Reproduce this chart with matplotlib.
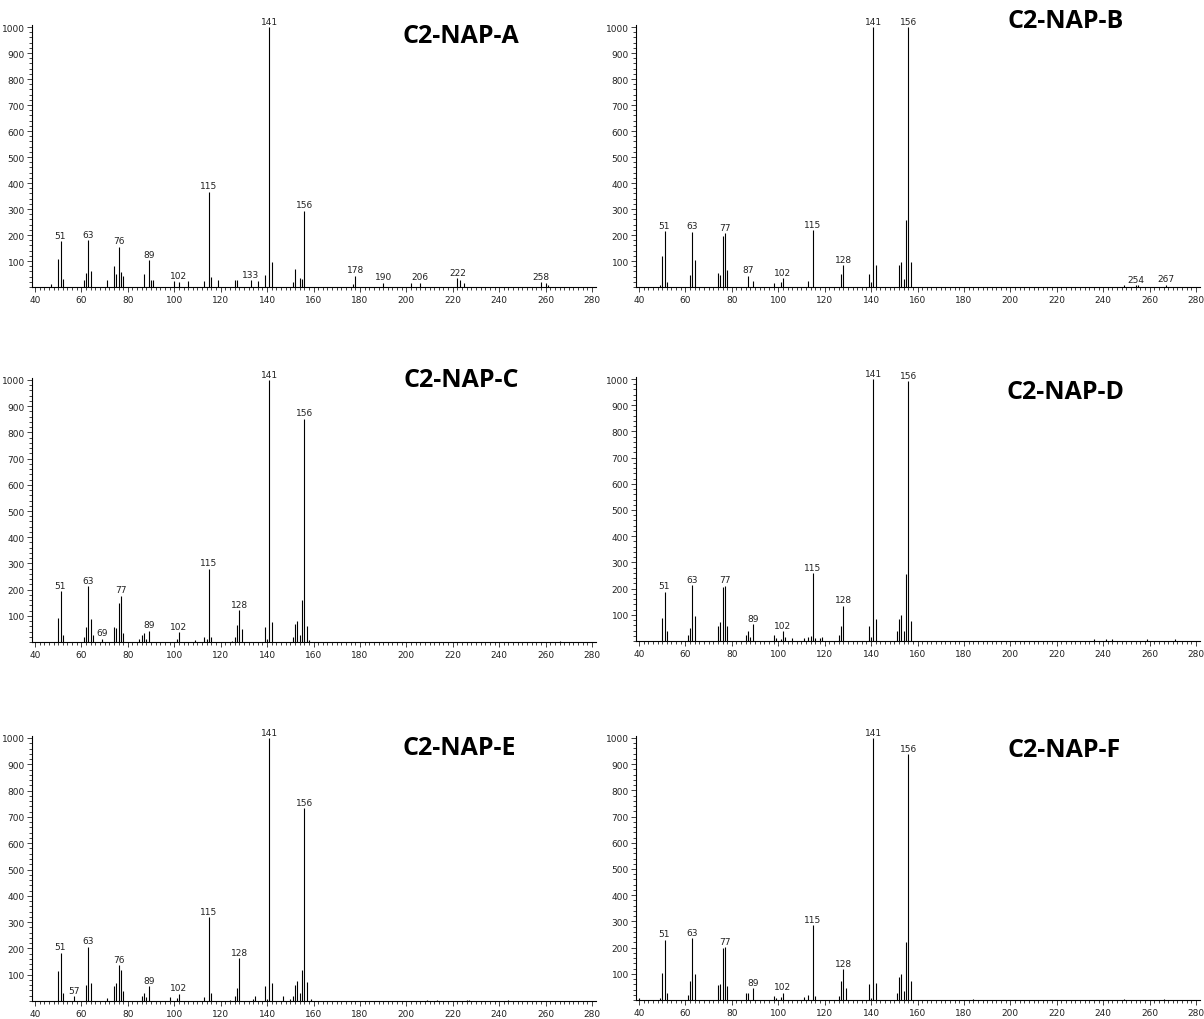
import matplotlib
matplotlib.use('Agg')
import matplotlib.pyplot as plt
import matplotlib.ticker as plticker

# ---- data: m/z, relative intensity, labelled peaks ----
mz_a = [47, 50, 51, 52, 61, 62, 63, 64, 71, 74, 75, 76, 77, 78, 87, 89, 90, 91, 100, 102, 106,
        113, 115, 116, 119, 126, 127, 133, 136, 139, 141, 142, 151, 152, 154, 155, 156,
        177, 178, 190, 202, 206, 222, 223, 225, 258, 260, 261]
int_a = [10, 106, 176, 32, 26, 55, 180, 63, 28, 79, 51, 155, 58, 42, 49, 102, 28, 26, 22, 20, 22,
         22, 367, 37, 27, 27, 27, 27, 22, 46, 1000, 95, 18, 70, 36, 31, 293,
         13, 43, 17, 17, 17, 35, 26, 17, 19, 15, 9]
lab_a = [51, 63, 76, 89, 102, 115, 133, 141, 156, 178, 190, 206, 222, 258]

mz_b = [49, 50, 51, 52, 62, 63, 64, 74, 75, 76, 77, 78, 87, 89, 98, 101, 102, 113, 115, 127, 128,
        139, 140, 141, 142, 152, 153, 154, 155, 156, 157, 249, 254, 255, 267]
int_b = [9, 119, 215, 18, 46, 213, 105, 55, 46, 196, 206, 65, 44, 22, 15, 19, 33, 22, 219, 50, 83,
         50, 19, 1000, 86, 85, 96, 31, 259, 1000, 96, 9, 8, 9, 9]
lab_b = [51, 63, 77, 87, 102, 115, 128, 141, 156, 254, 267]

mz_c = [50, 51, 52, 61, 62, 63, 64, 65, 69, 74, 75, 76, 77, 78, 85, 86, 87, 88, 89, 101, 102,
        109, 113, 114, 115, 116, 125, 126, 127, 128, 129, 139, 140, 141, 142, 151, 152, 153,
        154, 155, 156, 157, 158, 266]
int_c = [90, 195, 27, 20, 57, 214, 88, 25, 13, 57, 53, 148, 176, 36, 10, 25, 36, 10, 43, 10, 38,
         8, 18, 10, 280, 20, 5, 18, 66, 122, 51, 58, 10, 1000, 75, 20, 70, 81,
         25, 161, 853, 60, 8, 5]
lab_c = [51, 63, 69, 77, 89, 102, 115, 128, 141, 156]

mz_d = [50, 51, 52, 61, 62, 63, 64, 74, 75, 76, 77, 78, 86, 87, 88, 89, 98, 99, 101, 102, 103,
        106, 111, 113, 114, 115, 116, 118, 119, 126, 127, 128, 139, 140, 141, 142, 151, 152,
        153, 154, 155, 156, 157, 236, 241, 244, 259, 271]
int_d = [86, 188, 38, 22, 51, 213, 97, 58, 74, 208, 211, 58, 24, 38, 17, 64, 22, 11, 9, 37, 14,
         11, 11, 14, 19, 259, 11, 11, 14, 24, 58, 135, 58, 17, 1000, 85, 37, 83,
         100, 39, 257, 991, 75, 6, 6, 6, 6, 6]
lab_d = [51, 63, 77, 89, 102, 115, 128, 141, 156]

mz_e = [50, 51, 52, 57, 62, 63, 64, 71, 74, 75, 76, 77, 78, 86, 87, 88, 89, 98, 101, 102, 113,
        115, 116, 124, 126, 127, 128, 134, 135, 139, 140, 141, 142, 147, 150, 151, 152, 153,
        154, 155, 156, 157, 159, 209, 213, 226, 227, 244]
int_e = [113, 184, 29, 18, 62, 206, 67, 13, 58, 67, 135, 117, 38, 20, 32, 14, 57, 14, 11, 28, 14,
         318, 29, 5, 20, 48, 163, 9, 18, 56, 6, 1000, 70, 18, 9, 20, 61, 76,
         29, 119, 733, 71, 9, 3, 3, 3, 3, 3]
lab_e = [51, 57, 63, 76, 89, 102, 115, 128, 141, 156]

mz_f = [40, 49, 50, 51, 52, 61, 62, 63, 64, 74, 75, 76, 77, 78, 86, 87, 89, 98, 99, 101, 102,
        111, 113, 115, 116, 126, 127, 128, 129, 139, 140, 141, 142, 151, 152, 153, 154, 155,
        156, 157, 184, 249, 266]
int_f = [9, 9, 104, 230, 27, 19, 74, 237, 98, 59, 61, 200, 202, 53, 27, 27, 46, 17, 6, 11, 28,
         13, 19, 286, 17, 17, 74, 117, 45, 60, 9, 1000, 65, 27, 89, 98, 34, 221,
         939, 74, 3, 3, 3]
lab_f = [51, 63, 77, 89, 102, 115, 128, 141, 156]

titles = ['C2-NAP-A', 'C2-NAP-B', 'C2-NAP-C', 'C2-NAP-D', 'C2-NAP-E', 'C2-NAP-F']

W, H = 1204, 1020
fig = plt.figure(figsize=(W / 100, H / 100), dpi=100)

xmin, xmax = 38.9, 281.5
ppu = 2.321  # pixels per m/z unit
ymax = 1008

# (left px of m/z 40, y px of 1000, y px of baseline, title x, title baseline y)
layout = [
    (35, 28, 288, 461, 43),
    (639, 28, 288, 1066, 28),
    (35, 381, 643, 461, 387),
    (639, 380, 642, 1066, 399),
    (35, 739, 1002, 459, 755),
    (639, 739, 1001, 1064, 757),
]

spectra = [(mz_a, int_a, lab_a), (mz_b, int_b, lab_b), (mz_c, int_c, lab_c),
           (mz_d, int_d, lab_d), (mz_e, int_e, lab_e), (mz_f, int_f, lab_f)]

for (x40, y1000, ybase, tx, ty), (mz, inten, labs), title in zip(layout, spectra, titles):
    left = x40 - (40 - xmin) * ppu
    width = (xmax - xmin) * ppu
    pxu = (ybase - y1000) / 1000.0
    height = ymax * pxu
    ax = fig.add_axes([left / W, 1 - ybase / H, width / W, height / H])
    ax.vlines(mz, 0, inten, color='black', lw=0.8)
    for m, v in zip(mz, inten):
        if m in labs:
            ax.annotate(str(m), (m, v), xytext=(0, 1), textcoords='offset points',
                        ha='center', va='bottom', fontsize=6.5, color='#222222')
    ax.set_xlim(xmin, xmax)
    ax.set_ylim(0, ymax)
    ax.set_xticks(range(40, 281, 20))
    ax.xaxis.set_minor_locator(plticker.MultipleLocator(2))
    ax.set_yticks(range(100, 1001, 100))
    ax.yaxis.set_minor_locator(plticker.MultipleLocator(20))
    ax.tick_params(which='major', length=3.5, width=0.6, labelsize=6.5, pad=2, colors='#222222')
    ax.tick_params(which='minor', length=2, width=0.6, colors='#222222')
    for s in ['top', 'right']:
        ax.spines[s].set_visible(False)
    for s in ['left', 'bottom']:
        ax.spines[s].set_linewidth(0.8)
    fig.text(tx / W, 1 - ty / H, title, ha='center', va='baseline',
             fontsize=18, fontweight='bold', family='Open Sans')

fig.savefig('out.png', dpi=100)
